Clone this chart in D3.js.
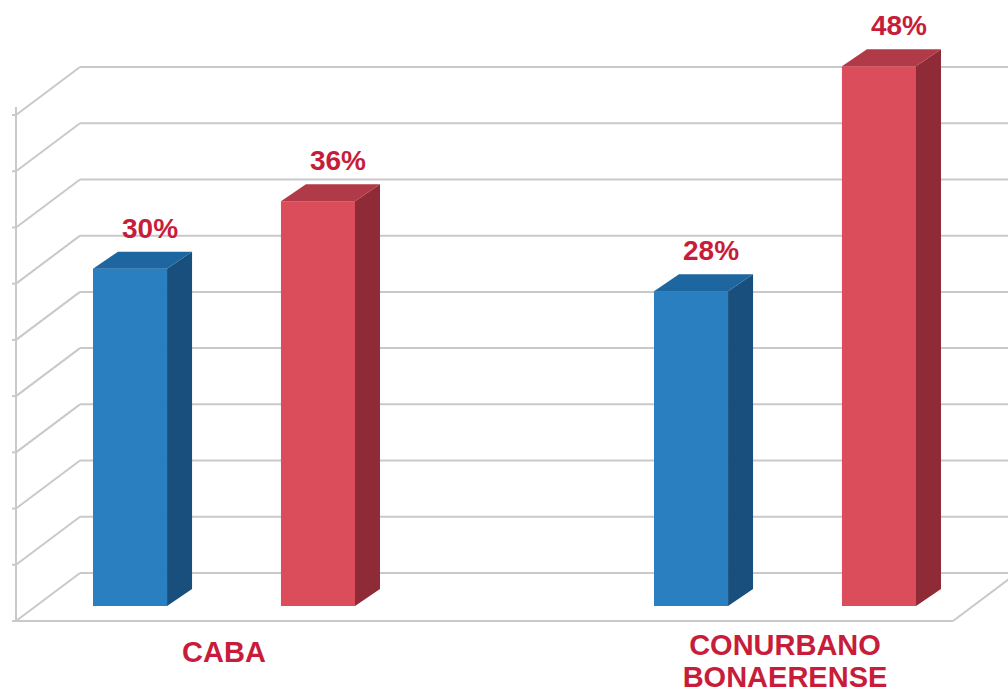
<!DOCTYPE html>
<html>
<head>
<meta charset="utf-8">
<script src="https://d3js.org/d3.v7.min.js"></script>
<style>
body { margin: 0; background: #fff; }
text { font-family: "Liberation Sans", Arial, sans-serif; font-weight: bold; }
</style>
</head>
<body>
<svg id="chart" width="1008" height="694"></svg>
<script>
// data
var categories = ["CABA", "CONURBANO BONAERENSE"]
var categoryLines = [["CABA"], ["CONURBANO", "BONAERENSE"]]
var series = ["serie1", "serie2"]
var serie1 = [30, 28]
var serie2 = [36, 48]
var gridTicks = [0, 5, 10, 15, 20, 25, 30, 35, 40, 45]

var colors = {
    serie1: { front: "#2a7fc1", side: "#184f7c", top: "#1d66a0" },
    serie2: { front: "#dc4d5c", side: "#8e2b36", top: "#b03a47" }
}
var labelColor = "#c81d3a"
var gridColor = "#c9c9c9"

var svg = d3.select("#chart")

// layout of the box
var floorFront = 621, floorBack = 573
var leftFront = 16, leftBack = 80, rightFront = 953
var depthX = 64
var barBase = 606
var barDx = 25, barDy = 17

var h = d3.scaleLinear().domain([0, 45]).range([0, 506])
var x = d3.scalePoint().domain(categories).range([224, 785])
var xs = d3.scaleBand().domain(series).range([-131, 131]).paddingInner(0.606)

// left axis
svg.append("line")
    .attr("x1", leftFront).attr("y1", floorFront - h(45) - 8)
    .attr("x2", leftFront).attr("y2", floorFront)
    .style("stroke", gridColor).style("stroke-width", 2)

gridTicks.forEach(function(t) {
    var yf = floorFront - h(t), yb = floorBack - h(t)
    // tick
    svg.append("line")
        .attr("x1", leftFront - 4).attr("y1", yf)
        .attr("x2", leftFront).attr("y2", yf)
        .style("stroke", gridColor).style("stroke-width", 2)
    // side wall
    svg.append("line")
        .attr("x1", leftFront).attr("y1", yf)
        .attr("x2", leftBack).attr("y2", yb)
        .style("stroke", gridColor).style("stroke-width", 2)
    // back wall
    svg.append("line")
        .attr("x1", leftBack).attr("y1", yb)
        .attr("x2", 1010).attr("y2", yb)
        .style("stroke", gridColor).style("stroke-width", 2)
})

// floor
svg.append("line")
    .attr("x1", leftFront).attr("y1", floorFront)
    .attr("x2", rightFront).attr("y2", floorFront)
    .style("stroke", gridColor).style("stroke-width", 2)
svg.append("line")
    .attr("x1", rightFront).attr("y1", floorFront)
    .attr("x2", rightFront + depthX).attr("y2", floorBack)
    .style("stroke", gridColor).style("stroke-width", 2)

// bars
var bars = []
categories.forEach(function(c, i) {
    bars.push({ cat: c, s: "serie1", v: serie1[i] })
    bars.push({ cat: c, s: "serie2", v: serie2[i] })
})

var bw = xs.bandwidth()
bars.forEach(function(d) {
    var xl = x(d.cat) + xs(d.s)
    var xr = xl + bw
    var yt = barBase - h(d.v)
    var col = colors[d.s]
    var g = svg.append("g")
    g.append("rect")
        .attr("x", xl).attr("y", yt)
        .attr("width", bw).attr("height", barBase - yt)
        .style("fill", col.front)
    g.append("polygon")
        .attr("points", [[xr, yt], [xr + barDx, yt - barDy], [xr + barDx, barBase - barDy], [xr, barBase]].join(" "))
        .style("fill", col.side)
    g.append("polygon")
        .attr("points", [[xl, yt], [xl + barDx, yt - barDy], [xr + barDx, yt - barDy], [xr, yt]].join(" "))
        .style("fill", col.top)
    svg.append("text")
        .attr("x", xl + bw / 2 + 20)
        .attr("y", yt - barDy - 14)
        .attr("text-anchor", "middle")
        .style("font-size", "28px")
        .style("fill", labelColor)
        .text(d.v + "%")
})

// category labels
categories.forEach(function(c, i) {
    var lines = categoryLines[i]
    var t = svg.append("text")
        .attr("text-anchor", "middle")
        .style("font-size", "29px")
        .style("fill", labelColor)
    var y0 = lines.length > 1 ? 655 : 662
    lines.forEach(function(l, j) {
        t.append("tspan")
            .attr("x", x(c))
            .attr("y", y0 + j * 32)
            .text(l)
    })
})
</script>
</body>
</html>
